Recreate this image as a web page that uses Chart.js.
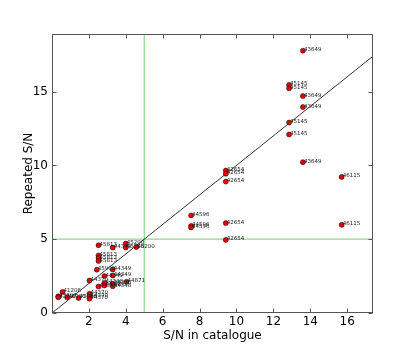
<!DOCTYPE html>
<html>
<head>
<meta charset="utf-8">
<script src="https://cdn.jsdelivr.net/npm/chart.js@4.4.1/dist/chart.umd.min.js"></script>
<style>
  html, body { margin: 0; padding: 0; background: #fff; }
  #wrap { width: 415px; height: 349px; }
</style>
</head>
<body>
<div id="wrap"><canvas id="sn-chart" width="415" height="349"></canvas></div>
<script>
// Repeated observations vs catalogue S/N, one point per source
const fieldIds = [
    '43649', '45145', '45145', '43649', '43649', '45145', '45145', '43649',
    '46115', '42654', '42654', '42654', '44596', '44596', '44596', '42654',
    '46115', '42654',
    '45813', '44349', '45200', '45200', '45200', '45813', '45813', '45813',
    '45900', '44349', '44349', '44349', '44370', '44348', '44348', '44348',
    '44348', '44348', '44871',
    '41206', '43297', '43297', '41206', '43066', '44370', '44370', '44370',
];
const catalogueSN = [
    13.6, 12.85, 12.85, 13.6, 13.6, 12.85, 12.85, 13.6,
    15.7, 9.42, 9.42, 9.42, 7.54, 7.54, 7.54, 9.42,
    15.7, 9.42,
    2.52, 3.29, 4.0, 4.0, 4.57, 2.52, 2.52, 2.52,
    2.43, 3.29, 2.84, 3.29, 2.03, 2.84, 2.84, 3.29,
    3.29, 2.52, 4.04,
    0.57, 0.34, 0.34, 0.82, 1.44, 2.03, 2.03, 2.03,
];
const repeatedSN = [
    17.77, 15.45, 15.22, 14.7, 13.95, 12.9, 12.1, 10.22,
    9.22, 9.65, 9.43, 8.9, 6.61, 5.9, 5.79, 6.09,
    5.97, 4.95,
    4.59, 4.43, 4.7, 4.43, 4.47, 3.9, 3.72, 3.52,
    2.93, 2.95, 2.5, 2.54, 2.2, 2.04, 1.86, 1.98,
    1.81, 1.79, 2.11,
    1.43, 1.13, 1.06, 1.06, 1.02, 1.3, 1.13, 0.97,
];

const xTicks = [2, 4, 6, 8, 10, 12, 14, 16];
const yTicks = [0, 5, 10, 15];
const xRange = [0, 17.4];
const yRange = [0, 18.9];
const cutSN = 5; // S/N = 5 threshold lines

const points = catalogueSN.map((x, i) => ({ x: x, y: repeatedSN[i] }));

// ============================================
// frame, inward ticks and point labels
// ============================================
const overlayPlugin = {
    id: 'overlay',
    afterDatasetsDraw(chart) {
        const { ctx, chartArea: a, scales: { x, y } } = chart;
        ctx.save();

        // point labels
        ctx.font = '5.5px "DejaVu Sans"';
        ctx.fillStyle = '#222';
        ctx.textBaseline = 'alphabetic';
        ctx.textAlign = 'left';
        const meta = chart.getDatasetMeta(0);
        meta.data.forEach((pt, i) => {
            ctx.fillText(fieldIds[i], pt.x + 1, pt.y + 0.5);
        });

        // frame
        const L = Math.round(a.left) + 0.5, R = Math.round(a.right) - 0.5;
        const T = Math.round(a.top) + 0.5, B = Math.round(a.bottom) - 0.5;
        ctx.strokeStyle = '#555';
        ctx.lineWidth = 1;
        ctx.strokeRect(L, T, R - L, B - T);

        // inward ticks on all four sides
        ctx.beginPath();
        xTicks.forEach((v) => {
            const px = Math.round(x.getPixelForValue(v)) + 0.5;
            ctx.moveTo(px, B); ctx.lineTo(px, B - 4);
            ctx.moveTo(px, T); ctx.lineTo(px, T + 4);
        });
        yTicks.forEach((v) => {
            const py = Math.round(y.getPixelForValue(v)) + 0.5;
            ctx.moveTo(L, py); ctx.lineTo(L + 4, py);
            ctx.moveTo(R, py); ctx.lineTo(R - 4, py);
        });
        ctx.stroke();
        ctx.restore();
    },
};

function lineSet(data, color, width) {
    return {
        data: data,
        showLine: true,
        borderColor: color,
        borderWidth: width,
        pointRadius: 0,
        fill: false,
    };
}

new Chart(document.getElementById('sn-chart'), {
    type: 'scatter',
    data: {
        datasets: [
            {
                data: points,
                backgroundColor: '#e50000',
                borderColor: '#000',
                borderWidth: 0.5,
                pointRadius: 2.5,
            },
            lineSet([{ x: xRange[0], y: xRange[0] }, { x: xRange[1], y: xRange[1] }], '#000', 0.8),
            lineSet([{ x: cutSN, y: yRange[0] }, { x: cutSN, y: yRange[1] }], '#8fd68f', 1.2),
            lineSet([{ x: xRange[0], y: cutSN }, { x: xRange[1], y: cutSN }], '#8fd68f', 1.2),
        ],
    },
    options: {
        responsive: false,
        animation: false,
        layout: { padding: { top: 34, right: 42, left: 0, bottom: 0 } },
        plugins: {
            legend: { display: false },
            tooltip: { enabled: false },
        },
        scales: {
            x: {
                type: 'linear',
                min: xRange[0],
                max: xRange[1],
                afterBuildTicks: (scale) => { scale.ticks = xTicks.map((v) => ({ value: v })); },
                afterFit: (scale) => { scale.height = 36; },
                grid: { display: false, drawTicks: false },
                border: { display: false },
                ticks: {
                    color: '#000',
                    padding: 2,
                    maxRotation: 0,
                    font: { family: 'DejaVu Sans', size: 12 },
                },
                title: {
                    display: true,
                    text: 'S/N in catalogue',
                    color: '#000',
                    font: { family: 'DejaVu Sans', size: 12 },
                    padding: { top: 0, bottom: 6 },
                },
            },
            y: {
                type: 'linear',
                min: yRange[0],
                max: yRange[1],
                afterBuildTicks: (scale) => { scale.ticks = yTicks.map((v) => ({ value: v })); },
                afterFit: (scale) => { scale.width = 52; },
                grid: { display: false, drawTicks: false },
                border: { display: false },
                ticks: {
                    color: '#000',
                    padding: 4,
                    font: { family: 'DejaVu Sans', size: 12 },
                },
                title: {
                    display: true,
                    text: 'Repeated S/N',
                    color: '#000',
                    font: { family: 'DejaVu Sans', size: 12 },
                    padding: { top: 22, bottom: 0 },
                },
            },
        },
    },
    plugins: [overlayPlugin],
});
</script>
</body>
</html>
